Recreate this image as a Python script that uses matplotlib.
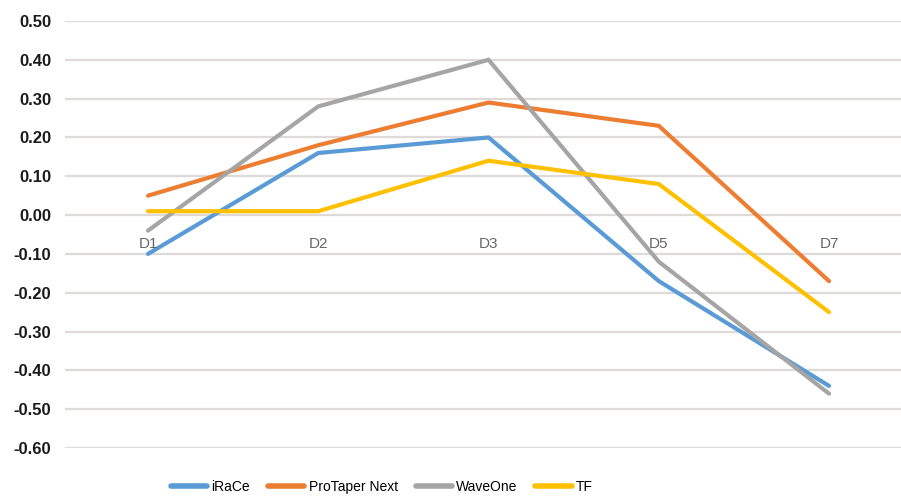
import matplotlib
matplotlib.use("Agg")
import matplotlib.pyplot as plt

categories = ["D1", "D2", "D3", "D5", "D7"]
irace = [-0.10, 0.16, 0.20, -0.17, -0.44]
protaper = [0.05, 0.18, 0.29, 0.23, -0.17]
waveone = [-0.04, 0.28, 0.40, -0.12, -0.46]
tf = [0.01, 0.01, 0.14, 0.08, -0.25]
series_names = ["iRaCe", "ProTaper Next", "WaveOne", "TF"]
yticks = [0.50, 0.40, 0.30, 0.20, 0.10, 0.00, -0.10, -0.20, -0.30, -0.40, -0.50, -0.60]

colors = ["#5B9BD5", "#ED7D31", "#A5A5A5", "#FFC000"]

plt.rcParams['font.family'] = ['Liberation Sans', 'DejaVu Sans']
fig = plt.figure(figsize=(9.01, 5.0), dpi=100)
ax = fig.add_axes([65/901, 1-448/500, (901-65)/901, (448-21)/500])

x = list(range(len(categories)))
for vals, name, c in zip([irace, protaper, waveone, tf], series_names, colors):
    ax.plot(x, vals, color=c, lw=3.0, label=name, solid_capstyle='round', solid_joinstyle='miter')

ax.set_ylim(-0.6, 0.5)
ax.set_xlim(-0.4875, 4.4227)
ax.set_yticks(yticks)
ax.set_yticklabels([f"{v:.2f}" for v in yticks], fontsize=12, fontweight='bold', color='#1a1a1a')
ax.tick_params(axis='y', length=0, pad=10)
ax.set_xticks([])
ax.yaxis.grid(True, color='#DEDAD8', lw=1.6)
ax.set_axisbelow(True)
for s in ax.spines.values():
    s.set_visible(False)

for i, lab in enumerate(categories):
    ax.annotate(lab, xy=(i, 0), xytext=(0, -21), textcoords='offset points',
                ha='center', va='center', fontsize=11, color='#666666')

leg = fig.legend(loc='center', bbox_to_anchor=(382/901, 1-487/500), ncol=4, frameon=False,
                 fontsize=10, handlelength=2.6, columnspacing=1.3, handletextpad=0.3)
for h in leg.get_lines():
    h.set_linewidth(4)

fig.savefig("out.png", dpi=100)
